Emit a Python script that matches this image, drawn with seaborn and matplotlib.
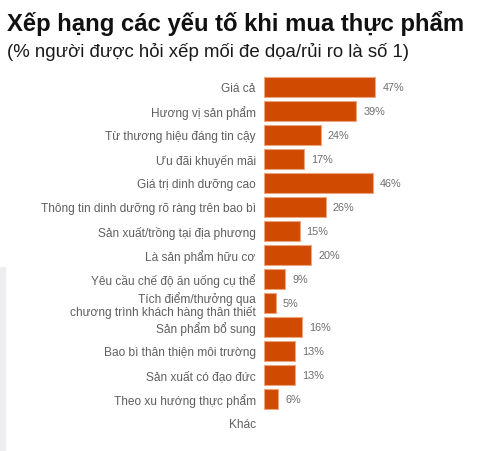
import numpy as np
import pandas as pd
import matplotlib
matplotlib.use("Agg")
import matplotlib.pyplot as plt
import seaborn as sns

# --------------------------------------------------
# Data
# --------------------------------------------------

factors = [
    "Giá cả",
    "Hương vị sản phẩm",
    "Từ thương hiệu đáng tin cậy",
    "Ưu đãi khuyến mãi",
    "Giá trị dinh dưỡng cao",
    "Thông tin dinh dưỡng rõ ràng trên bao bì",
    "Sản xuất/trồng tại địa phương",
    "Là sản phẩm hữu cơ",
    "Yêu cầu chế độ ăn uống cụ thể",
    "Tích điểm/thưởng qua\nchương trình khách hàng thân thiết",
    "Sản phẩm bổ sung",
    "Bao bì thân thiện môi trường",
    "Sản xuất có đạo đức",
    "Theo xu hướng thực phẩm",
    "Khác",
]
shares = [47, 39, 24, 17, 46, 26, 15, 20, 9, 5, 16, 13, 13, 6, np.nan]

title = "Xếp hạng các yếu tố khi mua thực phẩm"
subtitle = "(% người được hỏi xếp mối đe dọa/rủi ro là số 1)"

df = pd.DataFrame({"factor": factors, "share": shares})

# --------------------------------------------------
# Plot
# --------------------------------------------------

sns.set_style("white")
plt.rcParams["font.family"] = ["Liberation Sans", "DejaVu Sans"]

W, H = 483, 452
fig = plt.figure(figsize=(W / 100, H / 100), dpi=100)

# axes placed in pixel terms: bars start at x=264, rows span y=76..436
ax_left, ax_right = 264, 470
ax_top, ax_bottom = 76, 436
ax = fig.add_axes([ax_left / W, 1 - ax_bottom / H,
                   (ax_right - ax_left) / W, (ax_bottom - ax_top) / H])

bar_color = "#D04A02"

sns.barplot(
    data=df,
    x="share",
    y="factor",
    order=factors,
    color=bar_color,
    edgecolor="#EDA57E",
    linewidth=0.8,
    width=0.82,
    saturation=1,
    ax=ax,
)

px_per_pct = 2.37
ax.set_xlim(0, (ax_right - ax_left) / px_per_pct)
ax.set_ylim(len(factors) - 0.5, -0.5)

for i, v in enumerate(shares):
    if np.isnan(v):
        continue
    ax.annotate(f"{int(v)}%", xy=(v, i), xytext=(5, 0), textcoords="offset points",
                ha="left", va="center", fontsize=7.8, color="#6E6E6E")

ax.set_xlabel("")
ax.set_ylabel("")
ax.set_xticks([])
ax.tick_params(axis="y", length=0, pad=6, labelsize=8.6, labelcolor="#5F5F5F")
for lbl in ax.get_yticklabels():
    lbl.set_linespacing(1.0)
for s in ax.spines.values():
    s.set_visible(False)

fig.text(7 / W, 1 - 31 / H, title, fontsize=17.2, fontweight="bold",
         color="#111111", ha="left", va="baseline")
fig.text(7 / W, 1 - 57 / H, subtitle, fontsize=13.4, color="#1A1A1A",
         ha="left", va="baseline")

# faint grey strip at the left edge of the lower part
fig.patches.append(plt.Rectangle((0, 0), 5 / W, 1 - 268 / H, transform=fig.transFigure,
                                 color="#EEEEF0", zorder=0))

fig.savefig("out.png", dpi=100)
plt.close(fig)
print("Saved: out.png")
